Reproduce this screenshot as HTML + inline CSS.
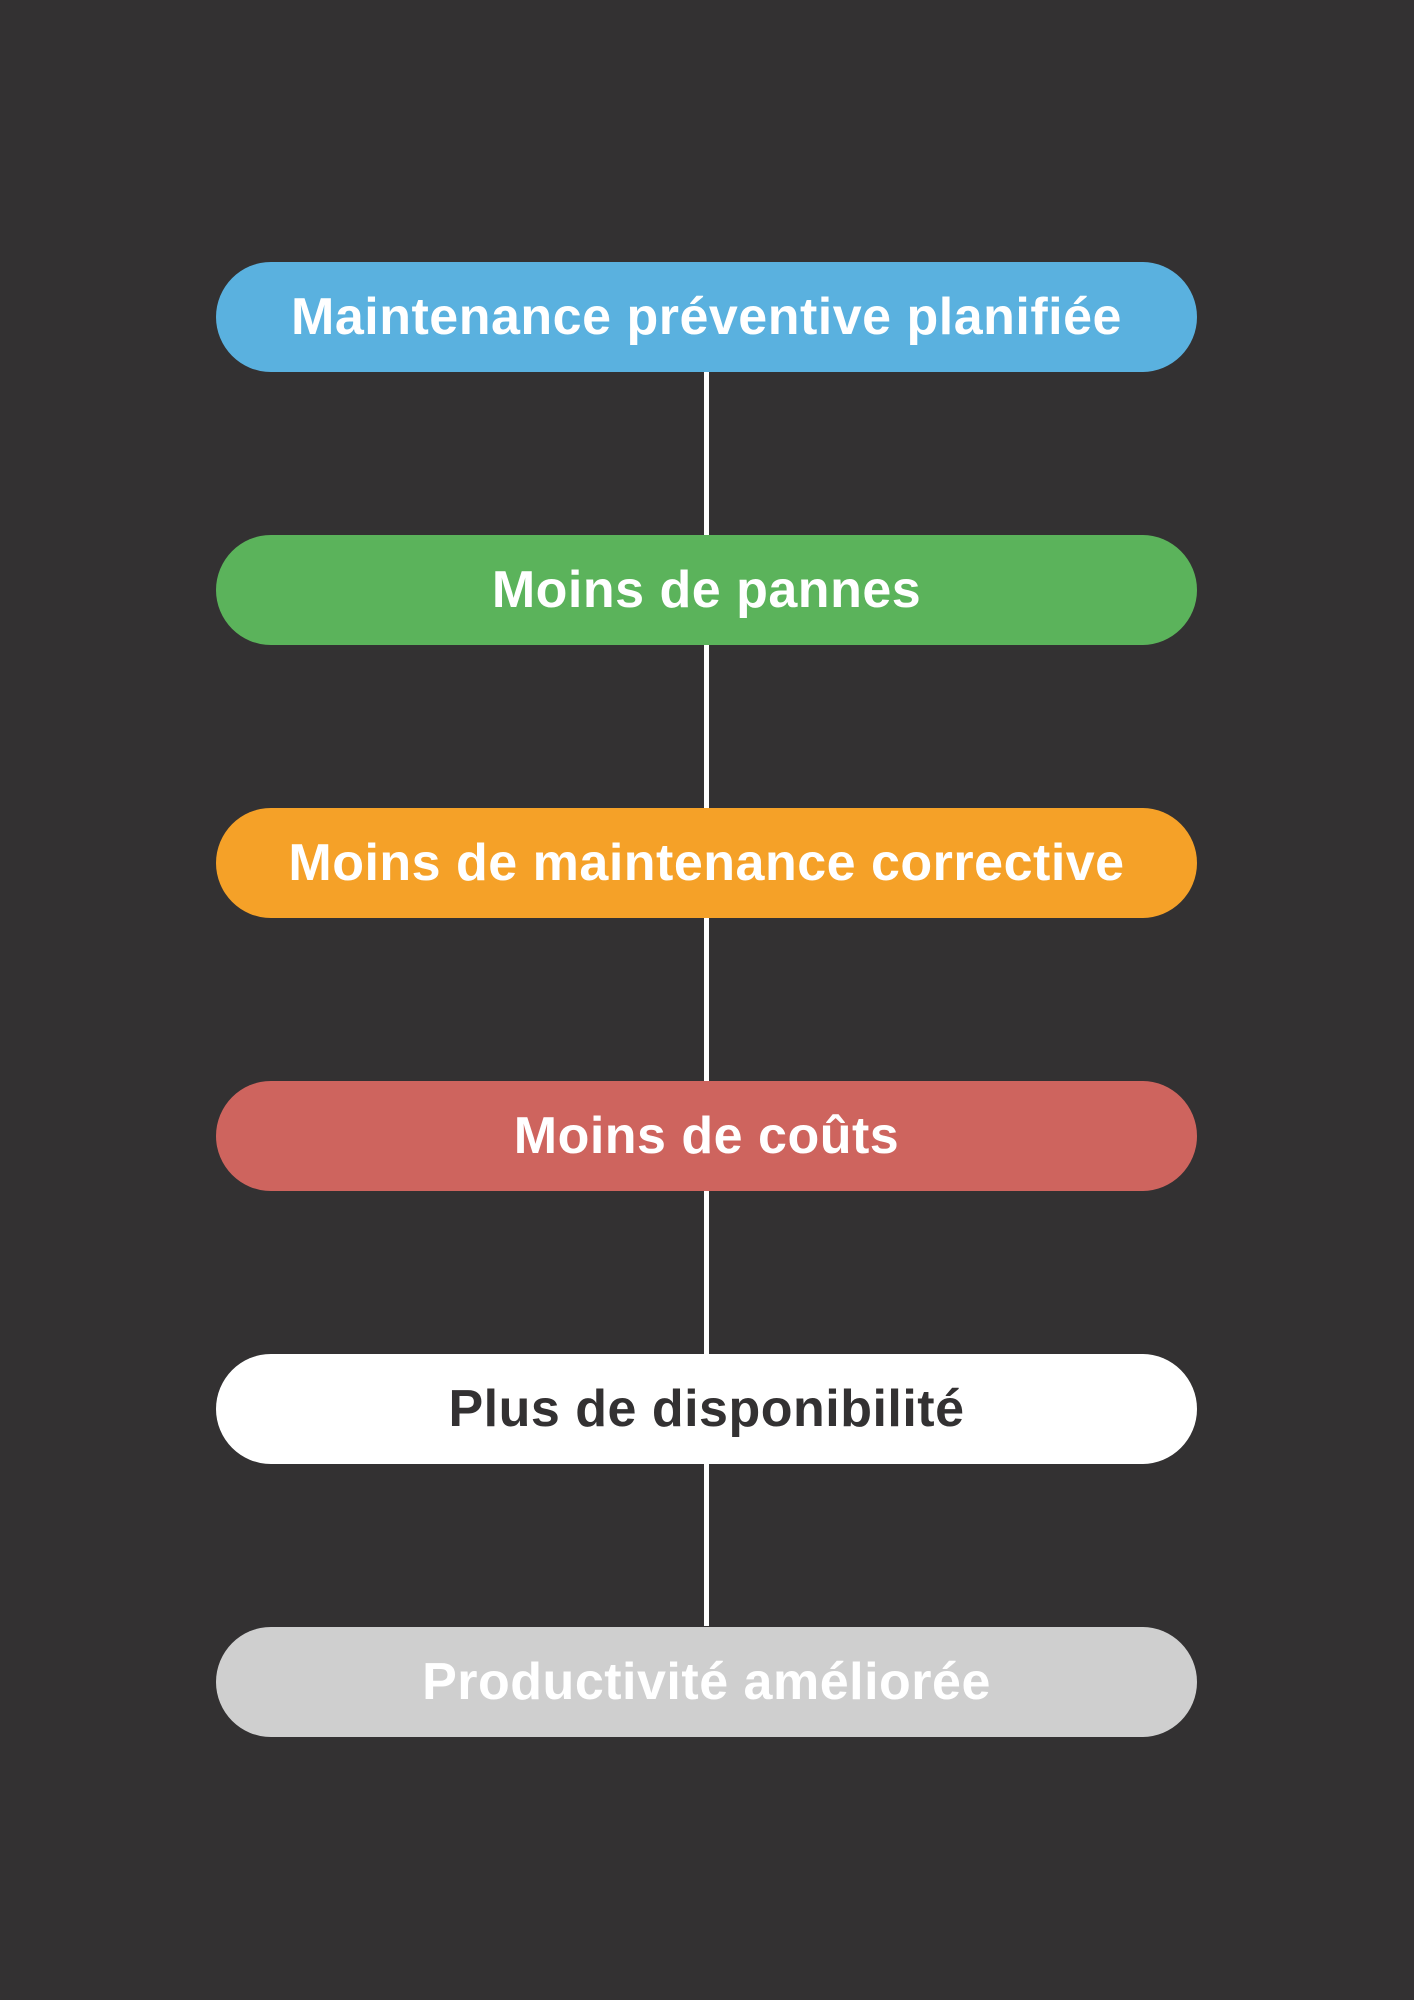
<!DOCTYPE html>
<html><head><meta charset="utf-8"><style>
html,body{margin:0;padding:0}
body{width:1414px;height:2000px;background:#333132;position:relative;overflow:hidden;font-family:"Liberation Sans",sans-serif}
.line{position:absolute;left:704px;width:5px;background:#fff}
.b{position:absolute;left:216px;width:981px;height:110px;border-radius:55px;display:flex;align-items:center;justify-content:center;font-weight:bold;font-size:52px;color:#fff;letter-spacing:0.5px}
</style></head><body>
<div class="line" style="top:372px;height:1254px"></div>
<div class="b" style="top:262px;background:#5ab1df">Maintenance préventive planifiée</div>
<div class="b" style="top:535px;background:#5bb35b">Moins de pannes</div>
<div class="b" style="top:808px;background:#f5a128">Moins de maintenance corrective</div>
<div class="b" style="top:1081px;background:#ce645e">Moins de coûts</div>
<div class="b" style="top:1354px;background:#fff;color:#333132">Plus de disponibilité</div>
<div class="b" style="top:1627px;background:#cfcfcf">Productivité améliorée</div>
</body></html>
